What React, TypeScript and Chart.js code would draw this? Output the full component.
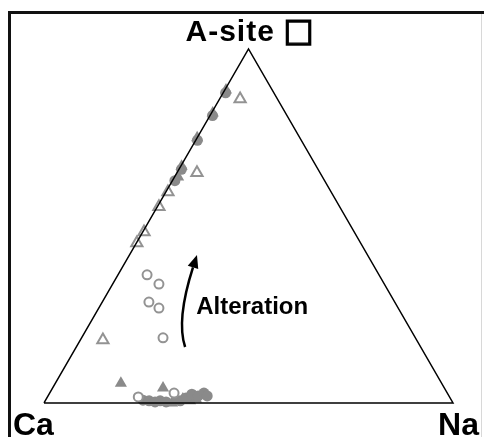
import React, { useEffect, useRef } from "react";
import { Chart, registerables } from "chart.js";

Chart.register(...registerables);

// Ternary compositions: fraction of A-site vacancy (□) and of Na; Ca is the remainder.
const cornerVac = [0, 0, 1, 0];
const cornerNa = [0, 1, 0, 0];

// Filled triangles
const filledTriVac = [0.884, 0.819, 0.749, 0.669, 0.638, 0.056, 0.042, 0.0, 0.006, 0.011, 0.006, 0.011];
const filledTriNa = [0.003, 0.003, 0.0, 0.002, 0.009, 0.16, 0.27, 0.313, 0.317, 0.334, 0.354, 0.366];

// Filled circles
const filledCirVac = [0.876, 0.812, 0.742, 0.66, 0.628, 0.008, 0.006, 0.003, 0.006, 0.003, 0.006, 0.014, 0.025, 0.02, 0.028, 0.02];
const filledCirNa = [0.006, 0.006, 0.004, 0.006, 0.006, 0.238, 0.254, 0.27, 0.281, 0.297, 0.33, 0.34, 0.349, 0.367, 0.377, 0.389];

// Open triangles
const openTriVac = [0.859, 0.65, 0.596, 0.554, 0.483, 0.452, 0.178];
const openTriNa = [0.05, 0.049, 0.005, 0.004, 0.003, 0.001, 0.055];

// Open circles
const openCirVac = [0.362, 0.336, 0.285, 0.268, 0.184, 0.017, 0.028];
const openCirNa = [0.071, 0.113, 0.114, 0.147, 0.199, 0.222, 0.304];

const SQ3 = Math.sqrt(3) / 2;
const toXY = (vac: number[], na: number[]) =>
  vac.map((v, i) => ({ x: na[i] + v / 2, y: v * SQ3 }));

const GRAY = "#8a8a8a";
const OPEN = "#939393";

const framePlugin = {
  id: "frame",
  beforeDraw(chart: any) {
    const ctx = chart.ctx;
    ctx.save();
    ctx.fillStyle = "#ffffff";
    ctx.fillRect(0, 0, chart.width, chart.height);
    ctx.strokeStyle = "#111";
    ctx.lineWidth = 3;
    ctx.beginPath();
    ctx.moveTo(9.5, chart.height);
    ctx.lineTo(9.5, 12.5);
    ctx.lineTo(chart.width, 12.5);
    ctx.stroke();
    ctx.strokeStyle = "#d8d8d8";
    ctx.lineWidth = 1;
    ctx.beginPath();
    ctx.moveTo(481.5, 14);
    ctx.lineTo(481.5, chart.height);
    ctx.stroke();
    ctx.restore();
  },
};

const labelPlugin = {
  id: "labels",
  afterDraw(chart: any) {
    const ctx = chart.ctx;
    const xs = chart.scales.x;
    const ys = chart.scales.y;
    const px = (x: number) => xs.getPixelForValue(x);
    const py = (y: number) => ys.getPixelForValue(y);
    ctx.save();
    ctx.fillStyle = "#000";
    ctx.strokeStyle = "#000";
    ctx.textBaseline = "alphabetic";

    // corner labels
    const ax = px(0.5);
    const ay = py(SQ3);
    ctx.font = "bold 30px 'Liberation Sans', Arial, sans-serif";
    (ctx as any).letterSpacing = "1px";
    ctx.textAlign = "left";
    ctx.fillText("A-site", ax - 63, ay - 8);
    (ctx as any).letterSpacing = "0px";
    ctx.font = "bold 32px 'DejaVu Sans', sans-serif";
    ctx.lineWidth = 1.4;
    ctx.fillText("□", ax + 35, ay - 8);
    ctx.strokeText("□", ax + 35, ay - 8);

    ctx.font = "bold 32px 'Liberation Sans', Arial, sans-serif";
    ctx.textAlign = "left";
    ctx.fillText("Ca", px(0) - 31, py(0) + 32);
    ctx.textAlign = "right";
    ctx.fillText("Na", px(1) + 26, py(0) + 32);

    // alteration trend arrow
    const tail = { x: px(0.345), y: py(0.137) };
    const ctrl = { x: px(0.323), y: py(0.203) };
    const tip = { x: px(0.374), y: py(0.362) };
    const ang = Math.atan2(tip.y - ctrl.y, tip.x - ctrl.x);
    const headLen = 13;
    const base = { x: tip.x - headLen * Math.cos(ang), y: tip.y - headLen * Math.sin(ang) };
    ctx.lineWidth = 2.5;
    ctx.beginPath();
    ctx.moveTo(tail.x, tail.y);
    ctx.quadraticCurveTo(ctrl.x, ctrl.y, base.x, base.y);
    ctx.stroke();
    ctx.beginPath();
    ctx.moveTo(tip.x, tip.y);
    ctx.lineTo(base.x + 5.5 * Math.sin(ang), base.y - 5.5 * Math.cos(ang));
    ctx.lineTo(base.x - 5.5 * Math.sin(ang), base.y + 5.5 * Math.cos(ang));
    ctx.closePath();
    ctx.fill();

    ctx.font = "bold 24px 'Liberation Sans', Arial, sans-serif";
    ctx.textAlign = "left";
    ctx.fillText("Alteration", px(0.372), py(0.218));
    ctx.restore();
  },
};

export default function App() {
  const ref = useRef<HTMLCanvasElement | null>(null);

  useEffect(() => {
    if (!ref.current) return;
    const chart = new Chart(ref.current, {
      type: "scatter",
      data: {
        datasets: [
          {
            label: "outline",
            data: toXY(cornerVac, cornerNa),
            showLine: true,
            borderColor: "#000",
            borderWidth: 1.5,
            pointRadius: 0,
            fill: false,
          } as any,
          {
            label: "open triangles",
            data: toXY(openTriVac, openTriNa),
            pointStyle: "triangle",
            pointRadius: 6.5,
            pointBorderWidth: 2,
            pointBorderColor: OPEN,
            pointBackgroundColor: "#fff",
          },
          {
            label: "open circles",
            data: toXY(openCirVac, openCirNa),
            pointStyle: "circle",
            pointRadius: 4.5,
            pointBorderWidth: 2,
            pointBorderColor: OPEN,
            pointBackgroundColor: "#fff",
          },
          {
            label: "filled circles",
            data: toXY(filledCirVac, filledCirNa),
            pointStyle: "circle",
            pointRadius: 5.5,
            pointBorderWidth: 0,
            pointBackgroundColor: GRAY,
          },
          {
            label: "filled triangles",
            data: toXY(filledTriVac, filledTriNa),
            pointStyle: "triangle",
            pointRadius: 7,
            pointBorderWidth: 0,
            pointBackgroundColor: GRAY,
          },
        ],
      },
      options: {
        animation: false,
        responsive: false,
        devicePixelRatio: 1,
        events: [],
        layout: { padding: 0, autoPadding: false },
        plugins: { legend: { display: false }, tooltip: { enabled: false } },
        scales: {
          x: { type: "linear", display: false, min: -0.1076, max: 1.0758 },
          y: { type: "linear", display: false, min: -0.0832, max: 0.9858 },
        },
        elements: { line: { tension: 0 } },
      },
      plugins: [framePlugin, labelPlugin],
    });
    return () => chart.destroy();
  }, []);

  return (
    <div style={{ position: "absolute", left: 0, top: 0, width: 484, height: 437 }}>
      <canvas ref={ref} width={484} height={437} style={{ display: "block" }} />
    </div>
  );
}
